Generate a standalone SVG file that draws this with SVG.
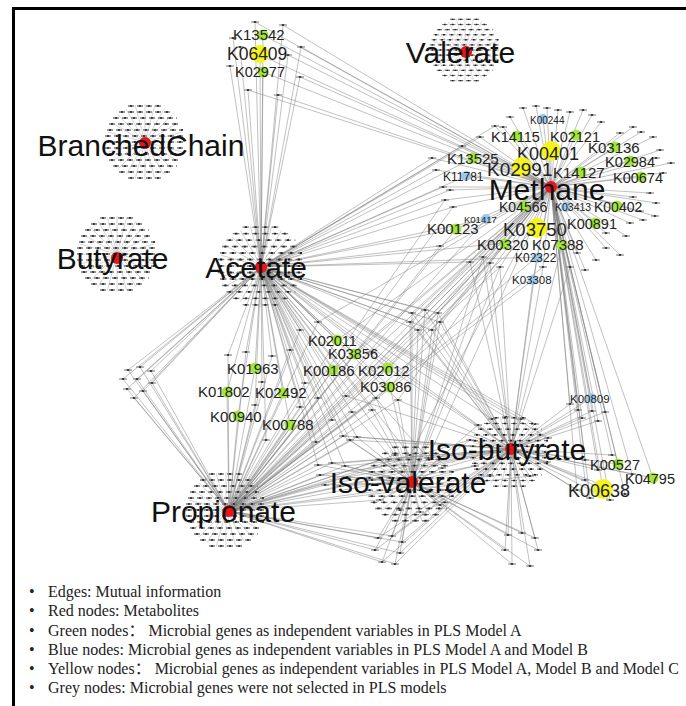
<svg xmlns="http://www.w3.org/2000/svg" width="686" height="706" viewBox="0 0 686 706">
<style>
.e{fill:none;stroke:#7d7d7d;stroke-width:.6;stroke-opacity:.8}
.rad{fill:none;stroke:#aaa;stroke-width:.5}
.rw{fill:none;stroke:#7a7a7a;stroke-width:1.3;stroke-dasharray:6 3}
.rd{fill:none;stroke:#222;stroke-width:1.7;stroke-dasharray:2 7;stroke-dashoffset:-2}
.met{font-family:"Liberation Sans",Arial,sans-serif;font-size:30px;fill:#111;text-anchor:middle}
.gl{font-family:"Liberation Sans",Arial,sans-serif;fill:#222}
.red{fill:#e8141b}
.gr{fill:#a2e63a}
.ye{fill:#f4f41c}
.bl{fill:#9cc8ec}
.lg{font-family:"Liberation Serif","Times New Roman","Noto Sans CJK SC",serif;font-size:16px;fill:#222}
</style>
<defs>
<g id="blob">
<path class="rad" d="M-38 0H38M-36.7-9.8L36.7 9.8M-32.9-19L32.9 19M-26.9-26.9L26.9 26.9M-19-32.9L19 32.9M-9.8-36.7L9.8 36.7M0-38V38M9.8-36.7L-9.8 36.7M19-32.9L-19 32.9M26.9-26.9L-26.9 26.9M32.9-19L-32.9 19M36.7-9.8L-36.7 9.8"/>
<path class="rw" d="M-17-36H17M-26-30H26M-32-24H32M-36-18H36M-38-12H38M-40-6H40M-40 0H40M-40 6H40M-38 12H38M-36 18H36M-32 24H32M-26 30H26M-17 36H17"/>
<path class="rd" d="M-17-36H17M-26-30H26M-32-24H32M-36-18H36M-38-12H38M-40-6H40M-40 0H40M-40 6H40M-38 12H38M-36 18H36M-32 24H32M-26 30H26M-17 36H17"/>
</g>
<g id="gn"><path d="M-4 0H4" stroke="#8a8a8a" stroke-width="1.2"/><ellipse rx="1.4" ry="1.1" fill="#333"/></g>
</defs>
<rect width="686" height="706" fill="#fff"/>
<path d="M13.5 706V8.5H686" fill="none" stroke="#000" stroke-width="3"/>

<g id="connectors">
<path id="e-acetate" class="e" d="M261 267L255 22M261 267L283 25M261 267L263 35M261 267L233 38M261 267L301 47M261 267L260 55M261 267L240 47M261 267L288 55M261 267L230 66M261 267L263 72M261 267L300 77M261 267L248 90M261 267L278 95M261 267L128 370M261 267L140 367M261 267L151 371M261 267L123 379M261 267L137 379M261 267L152 383M261 267L127 389M261 267L143 391M261 267L134 398M261 267L337 340M261 267L355 354M261 267L255 368M261 267L333 370M261 267L388 368M261 267L227 392M261 267L283 393M261 267L390 387M261 267L238 416M261 267L290 425M261 267L300 330M261 267L318 322M261 267L246 352M261 267L272 356M261 267L305 383M261 267L262 382M261 267L300 407M261 267L318 398M261 267L346 396M261 267L372 352M261 267L376 398M261 267L352 412M261 267L332 420M261 267L266 440M261 267L316 442M261 267L228 355M261 267L255 405M261 267L372 410M261 267L398 400M261 267L290 350M261 267L443 187M261 267L453 207M261 267L440 246M261 267L456 229M261 267L486 219M261 267L505 243M261 267L470 262M261 267L466 176M261 267L473 158M261 267L432 158M261 267L436 170M261 267L462 146M261 267L537 257M261 267L445 200M261 267L450 190M261 267L480 137M261 267L495 126M261 267L412 313M261 267L425 310M261 267L438 313M261 267L410 322M261 267L440 322M261 267L418 330M261 267L432 330M261 267L318 465M261 267L332 463M261 267L345 466M261 267L350 440M261 267L343 436M261 267L357 437M261 267L478 425M261 267L492 419M261 267L506 417M261 267L521 419M261 267L535 424M261 267L548 438M261 267L395 455M261 267L410 455M261 267L428 458"/>
<path id="e-propionate" class="e" d="M229 511L128 370M229 511L140 367M229 511L151 371M229 511L123 379M229 511L137 379M229 511L152 383M229 511L127 389M229 511L143 391M229 511L134 398M229 511L337 340M229 511L355 354M229 511L255 368M229 511L333 370M229 511L388 368M229 511L227 392M229 511L283 393M229 511L390 387M229 511L238 416M229 511L290 425M229 511L300 330M229 511L318 322M229 511L246 352M229 511L272 356M229 511L305 383M229 511L262 382M229 511L300 407M229 511L318 398M229 511L346 396M229 511L372 352M229 511L376 398M229 511L352 412M229 511L332 420M229 511L266 440M229 511L316 442M229 511L228 355M229 511L255 405M229 511L372 410M229 511L398 400M229 511L290 350M229 511L453 207M229 511L440 246M229 511L456 229M229 511L505 243M229 511L483 257M229 511L490 263M229 511L500 267M229 511L537 257M229 511L533 280M229 511L445 200M229 511L486 219M229 511L470 262M229 511L537 227M229 511L543 267M229 511L318 465M229 511L332 463M229 511L345 466M229 511L320 475M229 511L347 477M229 511L325 485M229 511L340 486M229 511L378 538M229 511L392 536M229 511L402 542M229 511L375 550M229 511L400 553M229 511L382 562M229 511L395 564M229 511L350 440M229 511L343 436M229 511L357 437M229 511L470 440M229 511L475 466M229 511L490 476M229 511L530 476M229 511L380 460M229 511L395 455M229 511L410 455M229 511L372 480M229 511L380 500"/>
<path id="e-methane" class="e" d="M551 187L283 25M551 187L263 35M551 187L301 47M551 187L260 55M551 187L288 55M551 187L263 72M551 187L300 77M551 187L278 95M551 187L255 22M551 187L248 90M551 187L543 119M551 187L517 136M551 187L576 135M551 187L551 151M551 187L615 147M551 187L473 158M551 187L630 161M551 187L522 167M551 187L466 176M551 187L581 172M551 187L641 177M551 187L524 205M551 187L566 205M551 187L617 204M551 187L486 219M551 187L456 229M551 187L537 227M551 187L595 222M551 187L505 243M551 187L562 245M551 187L537 257M551 187L533 280M551 187L523 108M551 187L536 106M551 187L547 108M551 187L558 110M551 187L570 112M551 187L583 110M551 187L592 115M551 187L601 122M551 187L510 117M551 187L503 127M551 187L480 137M551 187L495 126M551 187L633 127M551 187L641 132M551 187L620 133M551 187L653 137M551 187L660 150M551 187L656 158M551 187L671 163M551 187L663 173M551 187L633 197M551 187L650 193M551 187L640 211M551 187L656 203M551 187L643 220M551 187L655 216M551 187L630 223M551 187L626 236M551 187L606 233M551 187L606 248M551 187L596 260M551 187L577 253M551 187L570 267M551 187L543 267M551 187L500 267M551 187L490 263M551 187L483 257M551 187L470 262M551 187L440 246M551 187L453 207M551 187L445 200M551 187L450 190M551 187L436 170M551 187L432 158M551 187L462 146M551 187L443 187M551 187L620 255M551 187L585 270M551 187L337 340M551 187L355 354M551 187L333 370M551 187L388 368M551 187L390 387M551 187L372 352M551 187L318 322M551 187L398 400M551 187L346 396M551 187L591 398M551 187L578 410M551 187L592 411M551 187L605 412M551 187L582 418M551 187L598 421M551 187L570 404M551 187L618 464M551 187L653 478M551 187L603 489M551 187L585 460M551 187L598 470M551 187L632 474M551 187L585 480M551 187L590 498M551 187L610 500M551 187L625 494M551 187L577 490M551 187L612 455M551 187L412 313M551 187L425 310M551 187L438 313M551 187L410 322M551 187L440 322M551 187L418 330M551 187L432 330M551 187L410 455M551 187L428 458"/>
<path id="e-isobutyrate" class="e" d="M511 449L483 257M511 449L490 263M511 449L500 267M511 449L470 262M511 449L537 257M511 449L533 280M511 449L543 267M511 449L562 245M511 449L570 267M511 449L388 368M511 449L372 352M511 449L398 400M511 449L346 396M511 449L591 398M511 449L578 410M511 449L592 411M511 449L605 412M511 449L582 418M511 449L598 421M511 449L570 404M511 449L618 464M511 449L653 478M511 449L603 489M511 449L585 460M511 449L598 470M511 449L632 474M511 449L585 480M511 449L590 498M511 449L610 500M511 449L625 494M511 449L577 490M511 449L612 455M511 449L412 313M511 449L425 310M511 449L438 313M511 449L410 322M511 449L440 322M511 449L418 330M511 449L432 330M511 449L318 465M511 449L332 463M511 449L345 466M511 449L320 475M511 449L347 477M511 449L325 485M511 449L340 486M511 449L378 538M511 449L392 536M511 449L402 542M511 449L375 550M511 449L400 553M511 449L382 562M511 449L395 564M511 449L508 535M511 449L522 533M511 449L535 538M511 449L505 550M511 449L538 550M511 449L512 564M511 449L530 566M511 449L350 440M511 449L343 436M511 449L357 437M511 449L478 425M511 449L492 419M511 449L506 417M511 449L521 419M511 449L535 424M511 449L470 440M511 449L548 438M511 449L475 466M511 449L547 462M511 449L490 476M511 449L530 476M511 449L428 458M511 449L442 468M511 449L446 490M511 449L440 505"/>
<path id="e-isovalerate" class="e" d="M412 482L490 263M412 482L500 267M412 482L483 257M412 482L372 410M412 482L398 400M412 482L390 387M412 482L376 398M412 482L352 412M412 482L412 313M412 482L425 310M412 482L438 313M412 482L410 322M412 482L440 322M412 482L418 330M412 482L432 330M412 482L318 465M412 482L332 463M412 482L345 466M412 482L320 475M412 482L347 477M412 482L325 485M412 482L340 486M412 482L378 538M412 482L392 536M412 482L402 542M412 482L375 550M412 482L400 553M412 482L382 562M412 482L395 564M412 482L508 535M412 482L522 533M412 482L535 538M412 482L505 550M412 482L538 550M412 482L512 564M412 482L530 566M412 482L350 440M412 482L343 436M412 482L357 437M412 482L478 425M412 482L470 440M412 482L475 466M412 482L380 460M412 482L395 455M412 482L410 455M412 482L428 458M412 482L442 468M412 482L372 480M412 482L446 490M412 482L380 500M412 482L440 505M412 482L400 510M412 482L420 512"/>
</g>

<g id="grey-nodes">
<g id="grey-top"><use href="#gn" x="255" y="22"/><use href="#gn" x="283" y="25"/><use href="#gn" x="233" y="38"/><use href="#gn" x="301" y="47"/><use href="#gn" x="240" y="47"/><use href="#gn" x="288" y="55"/><use href="#gn" x="230" y="66"/><use href="#gn" x="300" y="77"/><use href="#gn" x="248" y="90"/><use href="#gn" x="278" y="95"/></g>
<g id="grey-left"><use href="#gn" x="128" y="370"/><use href="#gn" x="140" y="367"/><use href="#gn" x="151" y="371"/><use href="#gn" x="123" y="379"/><use href="#gn" x="137" y="379"/><use href="#gn" x="152" y="383"/><use href="#gn" x="127" y="389"/><use href="#gn" x="143" y="391"/><use href="#gn" x="134" y="398"/></g>
<g id="grey-middle"><use href="#gn" x="300" y="330"/><use href="#gn" x="318" y="322"/><use href="#gn" x="246" y="352"/><use href="#gn" x="272" y="356"/><use href="#gn" x="305" y="383"/><use href="#gn" x="262" y="382"/><use href="#gn" x="300" y="407"/><use href="#gn" x="318" y="398"/><use href="#gn" x="346" y="396"/><use href="#gn" x="372" y="352"/><use href="#gn" x="376" y="398"/><use href="#gn" x="352" y="412"/><use href="#gn" x="332" y="420"/><use href="#gn" x="266" y="440"/><use href="#gn" x="316" y="442"/><use href="#gn" x="228" y="355"/><use href="#gn" x="255" y="405"/><use href="#gn" x="372" y="410"/><use href="#gn" x="398" y="400"/><use href="#gn" x="290" y="350"/></g>
<g id="grey-methane"><use href="#gn" x="523" y="108"/><use href="#gn" x="536" y="106"/><use href="#gn" x="547" y="108"/><use href="#gn" x="558" y="110"/><use href="#gn" x="570" y="112"/><use href="#gn" x="583" y="110"/><use href="#gn" x="592" y="115"/><use href="#gn" x="601" y="122"/><use href="#gn" x="510" y="117"/><use href="#gn" x="503" y="127"/><use href="#gn" x="480" y="137"/><use href="#gn" x="495" y="126"/><use href="#gn" x="633" y="127"/><use href="#gn" x="641" y="132"/><use href="#gn" x="620" y="133"/><use href="#gn" x="653" y="137"/><use href="#gn" x="660" y="150"/><use href="#gn" x="656" y="158"/><use href="#gn" x="671" y="163"/><use href="#gn" x="663" y="173"/><use href="#gn" x="633" y="197"/><use href="#gn" x="650" y="193"/><use href="#gn" x="640" y="211"/><use href="#gn" x="656" y="203"/><use href="#gn" x="643" y="220"/><use href="#gn" x="655" y="216"/><use href="#gn" x="630" y="223"/><use href="#gn" x="626" y="236"/><use href="#gn" x="606" y="233"/><use href="#gn" x="606" y="248"/><use href="#gn" x="596" y="260"/><use href="#gn" x="577" y="253"/><use href="#gn" x="570" y="267"/><use href="#gn" x="543" y="267"/><use href="#gn" x="500" y="267"/><use href="#gn" x="490" y="263"/><use href="#gn" x="483" y="257"/><use href="#gn" x="470" y="262"/><use href="#gn" x="440" y="246"/><use href="#gn" x="453" y="207"/><use href="#gn" x="445" y="200"/><use href="#gn" x="450" y="190"/><use href="#gn" x="436" y="170"/><use href="#gn" x="432" y="158"/><use href="#gn" x="462" y="146"/><use href="#gn" x="443" y="187"/><use href="#gn" x="620" y="255"/><use href="#gn" x="585" y="270"/></g>
<g id="grey-c1"><use href="#gn" x="412" y="313"/><use href="#gn" x="425" y="310"/><use href="#gn" x="438" y="313"/><use href="#gn" x="410" y="322"/><use href="#gn" x="440" y="322"/><use href="#gn" x="418" y="330"/><use href="#gn" x="432" y="330"/></g>
<g id="grey-c2"><use href="#gn" x="318" y="465"/><use href="#gn" x="332" y="463"/><use href="#gn" x="345" y="466"/><use href="#gn" x="320" y="475"/><use href="#gn" x="347" y="477"/><use href="#gn" x="325" y="485"/><use href="#gn" x="340" y="486"/></g>
<g id="grey-c3"><use href="#gn" x="378" y="538"/><use href="#gn" x="392" y="536"/><use href="#gn" x="402" y="542"/><use href="#gn" x="375" y="550"/><use href="#gn" x="400" y="553"/><use href="#gn" x="382" y="562"/><use href="#gn" x="395" y="564"/></g>
<g id="grey-c4"><use href="#gn" x="508" y="535"/><use href="#gn" x="522" y="533"/><use href="#gn" x="535" y="538"/><use href="#gn" x="505" y="550"/><use href="#gn" x="538" y="550"/><use href="#gn" x="512" y="564"/><use href="#gn" x="530" y="566"/></g>
<g id="grey-c5"><use href="#gn" x="350" y="440"/><use href="#gn" x="343" y="436"/><use href="#gn" x="357" y="437"/></g>
<g id="grey-k8"><use href="#gn" x="578" y="410"/><use href="#gn" x="592" y="411"/><use href="#gn" x="605" y="412"/><use href="#gn" x="582" y="418"/><use href="#gn" x="598" y="421"/><use href="#gn" x="570" y="404"/></g>
<g id="grey-right"><use href="#gn" x="585" y="460"/><use href="#gn" x="598" y="470"/><use href="#gn" x="632" y="474"/><use href="#gn" x="585" y="480"/><use href="#gn" x="590" y="498"/><use href="#gn" x="610" y="500"/><use href="#gn" x="625" y="494"/><use href="#gn" x="577" y="490"/><use href="#gn" x="612" y="455"/></g>
<g id="grey-ib"><use href="#gn" x="478" y="425"/><use href="#gn" x="492" y="419"/><use href="#gn" x="506" y="417"/><use href="#gn" x="521" y="419"/><use href="#gn" x="535" y="424"/><use href="#gn" x="470" y="440"/><use href="#gn" x="548" y="438"/><use href="#gn" x="475" y="466"/><use href="#gn" x="547" y="462"/><use href="#gn" x="490" y="476"/><use href="#gn" x="530" y="476"/></g>
<g id="grey-iv"><use href="#gn" x="380" y="460"/><use href="#gn" x="395" y="455"/><use href="#gn" x="410" y="455"/><use href="#gn" x="428" y="458"/><use href="#gn" x="442" y="468"/><use href="#gn" x="372" y="480"/><use href="#gn" x="446" y="490"/><use href="#gn" x="380" y="500"/><use href="#gn" x="440" y="505"/><use href="#gn" x="400" y="510"/><use href="#gn" x="420" y="512"/></g>
</g>

<g id="genes">
<g id="K13542"><circle class="gr" cx="263" cy="35" r="5.5"/><text class="gl" x="233" y="40" font-size="15">K13542</text></g>
<g id="K06409"><circle class="ye" cx="260" cy="54" r="9"/><text class="gl" x="227" y="60" font-size="17.5">K06409</text></g>
<g id="K02977"><circle class="gr" cx="263" cy="72" r="5.5"/><text class="gl" x="235" y="77" font-size="14.5">K02977</text></g>
<g id="K00244"><circle class="bl" cx="543" cy="119" r="5"/><text class="gl" x="530" y="124" font-size="10">K00244</text></g>
<g id="K14115"><circle class="gr" cx="517" cy="136" r="5.5"/><text class="gl" x="491" y="142" font-size="14.5">K14115</text></g>
<g id="K02121"><circle class="gr" cx="576" cy="135" r="5.5"/><text class="gl" x="550" y="142" font-size="14.5">K02121</text></g>
<g id="K00401"><circle class="ye" cx="551" cy="151" r="10"/><text class="gl" x="517" y="160" font-size="18">K00401</text></g>
<g id="K03136"><circle class="gr" cx="615" cy="147" r="5.5"/><text class="gl" x="588" y="153" font-size="15">K03136</text></g>
<g id="K13525"><circle class="gr" cx="473" cy="158" r="5.5"/><text class="gl" x="447" y="164" font-size="15">K13525</text></g>
<g id="K02984"><circle class="gr" cx="630" cy="161" r="5.5"/><text class="gl" x="605" y="167" font-size="14.5">K02984</text></g>
<g id="K02991"><circle class="ye" cx="522" cy="167" r="10"/><text class="gl" x="487" y="176" font-size="19">K02991</text></g>
<g id="K11781"><circle class="bl" cx="466" cy="176" r="5"/><text class="gl" x="443" y="181" font-size="12">K11781</text></g>
<g id="K14127"><circle class="gr" cx="581" cy="172" r="5.5"/><text class="gl" x="553" y="178" font-size="15">K14127</text></g>
<g id="K00674"><circle class="gr" cx="641" cy="177" r="5.5"/><text class="gl" x="613" y="183" font-size="14.5">K00674</text></g>
<g id="K04566"><circle class="gr" cx="524" cy="206" r="5.5"/><text class="gl" x="499" y="212" font-size="14">K04566</text></g>
<g id="K03413"><circle class="bl" cx="566" cy="207" r="5"/><text class="gl" x="555" y="211" font-size="10.5">K03413</text></g>
<g id="K00402"><circle class="gr" cx="617" cy="206" r="5.5"/><text class="gl" x="594" y="212" font-size="14">K00402</text></g>
<g id="K01417"><circle class="bl" cx="486" cy="219" r="5"/><text class="gl" x="464" y="223" font-size="9.5">K01417</text></g>
<g id="K00123"><circle class="gr" cx="456" cy="229" r="5.5"/><text class="gl" x="427" y="234" font-size="15">K00123</text></g>
<g id="K03750"><circle class="ye" cx="537" cy="228" r="10"/><text class="gl" x="503" y="236" font-size="18.5">K03750</text></g>
<g id="K00891"><circle class="gr" cx="595" cy="223" r="5.5"/><text class="gl" x="567" y="229" font-size="14.5">K00891</text></g>
<g id="K00320"><circle class="gr" cx="505" cy="244" r="5.5"/><text class="gl" x="477" y="250" font-size="15">K00320</text></g>
<g id="K07388"><circle class="gr" cx="562" cy="245" r="5.5"/><text class="gl" x="532" y="250" font-size="15">K07388</text></g>
<g id="K02322"><circle class="bl" cx="537" cy="258" r="5"/><text class="gl" x="515" y="262" font-size="12">K02322</text></g>
<g id="K03308"><circle class="bl" cx="533" cy="280" r="5"/><text class="gl" x="512" y="284" font-size="11.5">K03308</text></g>
<g id="K02011"><circle class="gr" cx="337" cy="340" r="5.5"/><text class="gl" x="308" y="346" font-size="14.5">K02011</text></g>
<g id="K03856"><circle class="gr" cx="355" cy="354" r="5.5"/><text class="gl" x="328" y="359" font-size="14.5">K03856</text></g>
<g id="K01963"><circle class="gr" cx="255" cy="368" r="5.5"/><text class="gl" x="227" y="374" font-size="15">K01963</text></g>
<g id="K00186"><circle class="gr" cx="333" cy="370" r="5.5"/><text class="gl" x="303" y="376" font-size="15">K00186</text></g>
<g id="K02012"><circle class="gr" cx="388" cy="368" r="5.5"/><text class="gl" x="358" y="376" font-size="15">K02012</text></g>
<g id="K01802"><circle class="gr" cx="227" cy="392" r="5.5"/><text class="gl" x="198" y="397" font-size="15">K01802</text></g>
<g id="K02492"><circle class="gr" cx="283" cy="393" r="5.5"/><text class="gl" x="255" y="398" font-size="15">K02492</text></g>
<g id="K03086"><circle class="gr" cx="390" cy="387" r="5.5"/><text class="gl" x="360" y="392" font-size="15">K03086</text></g>
<g id="K00940"><circle class="gr" cx="238" cy="416" r="5.5"/><text class="gl" x="210" y="422" font-size="15">K00940</text></g>
<g id="K00788"><circle class="gr" cx="290" cy="425" r="5.5"/><text class="gl" x="262" y="430" font-size="15">K00788</text></g>
<g id="K00809"><circle class="bl" cx="591" cy="398" r="5"/><text class="gl" x="570" y="403" font-size="11.5">K00809</text></g>
<g id="K00527"><circle class="gr" cx="618" cy="464" r="5.5"/><text class="gl" x="590" y="470" font-size="14.5">K00527</text></g>
<g id="K04795"><circle class="gr" cx="653" cy="478" r="5.5"/><text class="gl" x="625" y="484" font-size="14.5">K04795</text></g>
<g id="K00638"><circle class="ye" cx="603" cy="489" r="10"/><text class="gl" x="568" y="497" font-size="18">K00638</text></g>
</g>

<g id="metabolites">
<g id="Valerate"><use href="#blob" transform="translate(465 50) scale(.88 .85)"/><circle class="red" cx="466" cy="52" r="6"/><text class="met" x="460.5" y="63">Valerate</text></g>
<g id="BranchedChain"><use href="#blob" transform="translate(145 142)"/><circle class="red" cx="145" cy="143" r="6"/><text class="met" x="141" y="156">BranchedChain</text></g>
<g id="Butyrate"><use href="#blob" transform="translate(117 254)"/><circle class="red" cx="117" cy="258" r="6"/><text class="met" x="112.5" y="269">Butyrate</text></g>
<g id="Acetate"><use href="#blob" transform="translate(261 266) scale(1.08)"/><circle class="red" cx="261" cy="267" r="6"/><text class="met" x="256" y="278">Acetate</text></g>
<g id="Methane"><circle class="red" cx="551" cy="187" r="6"/><text class="met" x="547" y="200">Methane</text></g>
<g id="Propionate"><use href="#blob" transform="translate(226 510)"/><circle class="red" cx="229" cy="511" r="6"/><text class="met" x="223.5" y="522">Propionate</text></g>
<g id="Iso-valerate"><use href="#blob" transform="translate(411 484) scale(1.12 1.02)"/><circle class="red" cx="412" cy="482" r="6"/><text class="met" x="408" y="493">Iso-valerate</text></g>
<g id="Iso-butyrate"><use href="#blob" transform="translate(510 452) scale(1 .95)"/><circle class="red" cx="511" cy="449" r="6"/><text class="met" x="507" y="460">Iso-butyrate</text></g>
</g>

<g id="legend">
<text class="lg" x="29" y="597">•</text><text class="lg" x="48" y="597">Edges: Mutual information</text>
<text class="lg" x="29" y="616">•</text><text class="lg" x="48" y="616">Red nodes: Metabolites</text>
<text class="lg" x="29" y="636">•</text><text class="lg" x="48" y="636">Green nodes： Microbial genes as independent variables in PLS Model A</text>
<text class="lg" x="29" y="655">•</text><text class="lg" x="48" y="655">Blue nodes: Microbial genes as independent variables in PLS Model A and Model B</text>
<text class="lg" x="29" y="674">•</text><text class="lg" x="48" y="674" textLength="631" lengthAdjust="spacingAndGlyphs">Yellow nodes： Microbial genes as independent variables in PLS Model A, Model B and Model C</text>
<text class="lg" x="29" y="693">•</text><text class="lg" x="48" y="693">Grey nodes: Microbial genes were not selected in PLS models</text>
</g>
</svg>
